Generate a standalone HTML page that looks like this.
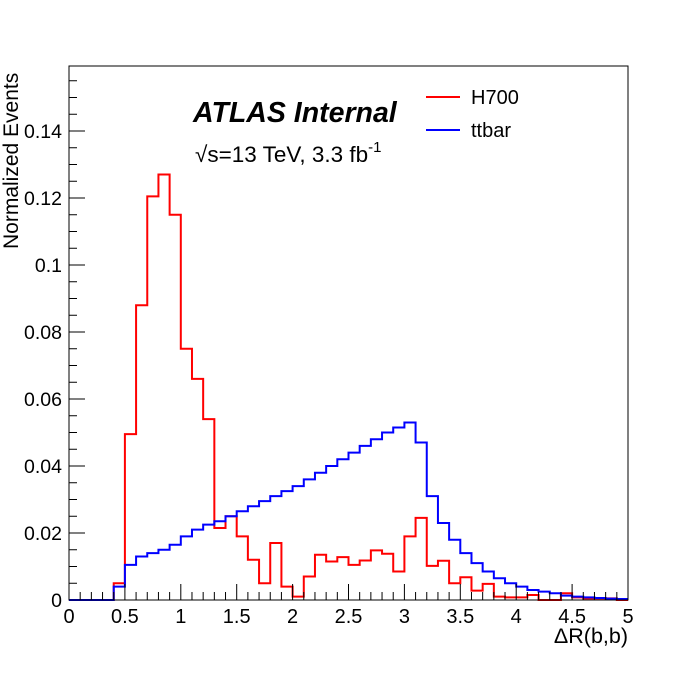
<!DOCTYPE html>
<html><head><meta charset="utf-8"><style>
body{margin:0;background:#fff;}
svg{display:block;font-family:"Liberation Sans",sans-serif;}
</style></head><body>
<svg id="c" width="698" height="676"></svg>
<script>
const binEdgesStart = 0, binWidth = 0.1;
const h700Values = [0,0,0,0,0.005,0.0495,0.088,0.1205,0.127,0.115,0.075,0.066,0.054,0.0215,0.025,0.019,0.012,0.005,0.017,0.004,0.001,0.007,0.0135,0.0115,0.0128,0.0105,0.0118,0.0148,0.0138,0.0085,0.019,0.0245,0.0102,0.0117,0.005,0.0068,0.0028,0.0048,0.001,0.0008,0.0008,0.0015,0,0,0.002,0.0008,0.0005,0.0005,0.0005,0];
const ttbarValues = [0,0,0,0,0.004,0.0105,0.013,0.014,0.015,0.0165,0.019,0.021,0.0225,0.0235,0.025,0.0265,0.028,0.0295,0.031,0.0325,0.034,0.036,0.038,0.040,0.042,0.044,0.046,0.048,0.050,0.0515,0.053,0.047,0.031,0.023,0.018,0.014,0.011,0.0085,0.0065,0.005,0.004,0.003,0.0025,0.002,0.0013,0.001,0.0008,0.0006,0.0004,0.0003];
const xTickLabels = ["0","0.5","1","1.5","2","2.5","3","3.5","4","4.5","5"];
const yTickLabels = ["0","0.02","0.04","0.06","0.08","0.1","0.12","0.14"];
const X0=69,X1=628,Y0=600,Y1=66,XMAX=5,YMAX=(600-66)/3350;
const sx=v=>X0+(X1-X0)*v/XMAX, sy=v=>Y0-(Y0-Y1)*v/YMAX;
const svg=document.getElementById('c');
const NS="http://www.w3.org/2000/svg";
function mk(tag,attrs,parent){const e=document.createElementNS(NS,tag);for(const k in attrs)e.setAttribute(k,attrs[k]);(parent||svg).appendChild(e);return e;}
function step(vals,color,name){let d=`M${sx(0)},${sy(vals[0])}`;vals.forEach((v,i)=>{const a=binEdgesStart+i*binWidth;d+=` L${sx(a)},${sy(v)} L${sx(a+binWidth)},${sy(v)}`;});
const p=mk('path',{d:d,fill:'none',stroke:color,'stroke-width':2});

}
step(h700Values,'#ff0000','h700-histogram');
step(ttbarValues,'#0000ff','ttbar-histogram');
const fr=mk('rect',{x:X0,y:Y1,width:X1-X0,height:Y0-Y1,fill:'none',stroke:'#000','stroke-width':1});


for(let i=0;i<=50;i++){const v=i*0.1,x=sx(v),maj=i%5==0;mk('line',{x1:x,x2:x,y1:Y0,y2:Y0-(maj?16:8),stroke:'#000'});}
xTickLabels.forEach(t=>{const e=mk('text',{x:sx(+t),y:623,'font-size':20,'text-anchor':'middle'});e.textContent=t;

});
for(let v=0;v<=YMAX+1e-9;v+=0.005){const y=sy(v),maj=Math.round(v/0.005)%4==0;mk('line',{x1:X0,x2:X0+(maj?16:8),y1:y,y2:y,stroke:'#000'});}
yTickLabels.forEach(t=>{const e=mk('text',{x:62,y:sy(+t)+7,'font-size':19.5,'text-anchor':'end'});e.textContent=t;

});
</script>
<svg style="position:absolute;left:0;top:0" width="698" height="676" font-family="Liberation Sans, sans-serif">
<text x="628" y="643" font-size="21.5" text-anchor="end">ΔR(b,b)</text>
<text transform="translate(18,249) rotate(-90)" font-size="21">Normalized Events</text>
<text x="193" y="122" font-size="28.5" font-weight="bold" font-style="italic">ATLAS Internal</text>
<text x="195" y="162" font-size="22.5">√s=13 TeV, 3.3 fb<tspan dy="-10" font-size="15">-1</tspan></text>
<g>
<line x1="426" x2="460" y1="97" y2="97" stroke="#ff0000" stroke-width="2"/>
<text x="471" y="104" font-size="20">H700</text>
<line x1="426" x2="460" y1="130" y2="130" stroke="#0000ff" stroke-width="2"/>
<text x="471" y="137" font-size="20">ttbar</text>
</g>
</svg>
</body></html>
